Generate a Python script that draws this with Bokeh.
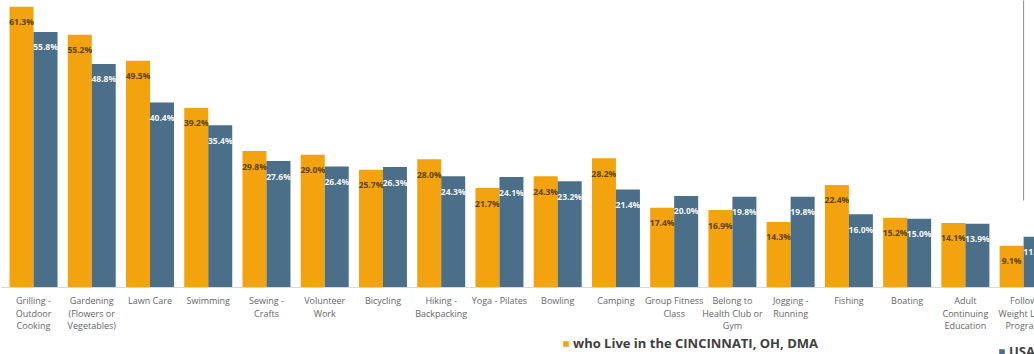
from bokeh.plotting import figure
from bokeh.models import ColumnDataSource, Range1d, Span, Legend, LegendItem
from bokeh.transform import dodge
from bokeh.core.properties import value
from bokeh.embed import file_html
from bokeh.resources import INLINE

categories = ["Grilling -\nOutdoor\nCooking", "Gardening\n(Flowers or\nVegetables)", "Lawn Care",
              "Swimming", "Sewing -\nCrafts", "Volunteer\nWork", "Bicycling", "Hiking -\nBackpacking",
              "Yoga - Pilates", "Bowling", "Camping", "Group Fitness\nClass",
              "Belong to\nHealth Club or\nGym", "Jogging -\nRunning", "Fishing", "Boating",
              "Adult\nContinuing\nEducation", "Follow\nWeight Loss\nProgram"]
cincinnati = [61.3, 55.2, 49.5, 39.2, 29.8, 29.0, 25.7, 28.0, 21.7, 24.3, 28.2, 17.4, 16.9, 14.3, 22.4, 15.2, 14.1, 9.1]
usa = [55.8, 48.8, 40.4, 35.4, 27.6, 26.4, 26.3, 24.3, 24.1, 23.2, 21.4, 20.0, 19.8, 19.8, 16.0, 15.0, 13.9, 11.1]
series_names = ["who Live in the CINCINNATI, OH, DMA", "USA"]

ORANGE = "#F3A30E"
BLUE = "#4B6F88"

src = ColumnDataSource(dict(
    x=list(range(len(categories))),
    cat=categories,
    cin=cincinnati,
    usa=usa,
    cin_lbl=[f"{v:.1f}%" for v in cincinnati],
    usa_lbl=[f"{v:.1f}%" for v in usa],
))

W, H = 1034, 354
p = figure(width=W, height=H, output_backend="svg", toolbar_location=None,
           x_range=Range1d(-0.567, 17.187), y_range=Range1d(-14.63, 62.66),
           min_border=0, outline_line_color=None)
p.axis.visible = False
p.grid.visible = False
p.background_fill_color = "white"
p.border_fill_color = "white"

off = 0.206
bw = 0.412
r1 = p.vbar(x=dodge("x", -off), top="cin", width=bw, source=src, fill_color=ORANGE, line_color=None)
r2 = p.vbar(x=dodge("x", off), top="usa", width=bw, source=src, fill_color=BLUE, line_color=None)

p.add_layout(Span(location=0, dimension="width", line_color="#D9D9D9", line_width=1))

p.text(x=dodge("x", -off), y="cin", text="cin_lbl", source=src, y_offset=15,
       text_align="center", text_baseline="middle", text_font=value("Open Sans"),
       text_font_size="8.5px", text_font_style="bold", text_color="#5E4200")
p.text(x=dodge("x", off), y="usa", text="usa_lbl", source=src, y_offset=15,
       text_align="center", text_baseline="middle", text_font=value("Open Sans"),
       text_font_size="8.5px", text_font_style="bold", text_color="#F4F4F4")

p.text(x="x", y=0, text="cat", source=src, y_offset=7, text_align="center",
       text_baseline="top", text_font=value("Open Sans"), text_font_size="9px",
       text_color="#666666", text_line_height=0.95)

# thin vertical rule at the right edge (decoration of the source image)
p.segment(x0=[len(categories) - 1.0], y0=[19.0], x1=[len(categories) - 1.0], y1=[64.0],
          line_color="#8C8C8C", line_width=1)

common = dict(orientation="horizontal", padding=0, margin=0,
              glyph_width=7, glyph_height=7, label_standoff=4,
              label_height=16, label_text_font="Open Sans", label_text_font_size="13px",
              label_text_font_style="bold", label_text_color="#404040",
              border_line_color=None, background_fill_alpha=0)
legend1 = Legend(items=[LegendItem(label=series_names[0], renderers=[r1])],
                 location=(562, 2), **common)
legend2 = Legend(items=[LegendItem(label=series_names[1], renderers=[r2])],
                 location=(998, -6), **common)
p.add_layout(legend1)
p.add_layout(legend2)

open("out.html", "w").write(file_html(p, INLINE))
